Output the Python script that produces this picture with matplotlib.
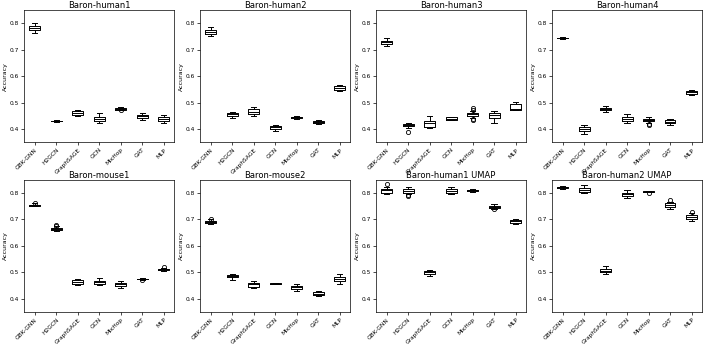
import matplotlib
matplotlib.use("Agg")
import matplotlib.pyplot as plt

methods = ["GBK-GNN", "H2GCN", "GraphSAGE", "GCN", "MixHop", "GAT", "MLP"]
titles = ["Baron-human1", "Baron-human2", "Baron-human3", "Baron-human4",
          "Baron-mouse1", "Baron-mouse2", "Baron-human1 UMAP", "Baron-human2 UMAP"]

# box stats per panel, one value per method
q1 = [
    [0.773, 0.429, 0.455, 0.431, 0.474, 0.443, 0.432],
    [0.760, 0.450, 0.458, 0.401, 0.441, 0.423, 0.549],
    [0.720, 0.411, 0.410, 0.436, 0.449, 0.442, 0.474],
    [0.742, 0.392, 0.471, 0.431, 0.429, 0.422, 0.533],
    [0.751, 0.661, 0.458, 0.457, 0.449, 0.474, 0.509],
    [0.688, 0.482, 0.447, 0.457, 0.438, 0.417, 0.467],
    [0.801, 0.800, 0.496, 0.800, 0.806, 0.743, 0.687],
    [0.818, 0.805, 0.500, 0.789, 0.804, 0.746, 0.701],
]
med = [
    [0.780, 0.431, 0.461, 0.439, 0.477, 0.449, 0.439],
    [0.767, 0.456, 0.466, 0.407, 0.444, 0.427, 0.555],
    [0.727, 0.415, 0.422, 0.440, 0.456, 0.452, 0.477],
    [0.743, 0.400, 0.476, 0.439, 0.434, 0.427, 0.539],
    [0.754, 0.665, 0.464, 0.463, 0.455, 0.476, 0.512],
    [0.691, 0.486, 0.455, 0.458, 0.444, 0.420, 0.476],
    [0.809, 0.806, 0.500, 0.807, 0.809, 0.748, 0.693],
    [0.821, 0.812, 0.506, 0.796, 0.805, 0.754, 0.708],
]
q3 = [
    [0.789, 0.432, 0.467, 0.447, 0.480, 0.455, 0.447],
    [0.774, 0.461, 0.475, 0.412, 0.447, 0.431, 0.562],
    [0.734, 0.420, 0.429, 0.444, 0.461, 0.461, 0.493],
    [0.745, 0.409, 0.480, 0.447, 0.439, 0.433, 0.544],
    [0.756, 0.669, 0.471, 0.469, 0.461, 0.477, 0.514],
    [0.694, 0.491, 0.461, 0.459, 0.449, 0.425, 0.484],
    [0.816, 0.813, 0.505, 0.813, 0.811, 0.751, 0.698],
    [0.823, 0.818, 0.515, 0.801, 0.806, 0.760, 0.716],
]
wlo = [
    [0.763, 0.428, 0.450, 0.422, 0.471, 0.433, 0.425],
    [0.751, 0.443, 0.450, 0.394, 0.438, 0.420, 0.544],
    [0.712, 0.406, 0.403, 0.434, 0.442, 0.425, 0.473],
    [0.741, 0.383, 0.466, 0.422, 0.425, 0.416, 0.528],
    [0.749, 0.657, 0.452, 0.452, 0.443, 0.473, 0.507],
    [0.684, 0.472, 0.441, 0.456, 0.429, 0.413, 0.457],
    [0.796, 0.796, 0.488, 0.795, 0.804, 0.739, 0.682],
    [0.816, 0.798, 0.494, 0.782, 0.802, 0.739, 0.694],
]
whi = [
    [0.801, 0.433, 0.471, 0.459, 0.483, 0.461, 0.454],
    [0.783, 0.466, 0.482, 0.416, 0.449, 0.434, 0.566],
    [0.743, 0.425, 0.449, 0.447, 0.469, 0.468, 0.501],
    [0.746, 0.417, 0.486, 0.458, 0.444, 0.440, 0.549],
    [0.760, 0.674, 0.477, 0.478, 0.467, 0.478, 0.517],
    [0.701, 0.496, 0.469, 0.460, 0.457, 0.429, 0.496],
    [0.823, 0.821, 0.508, 0.821, 0.813, 0.757, 0.702],
    [0.825, 0.828, 0.524, 0.812, 0.807, 0.767, 0.723],
]
fliers = [
    [[], [], [], [], [0.473], [], []],
    [[], [], [], [], [], [], []],
    [[], [0.390], [], [], [0.479, 0.474, 0.437, 0.433], [], []],
    [[], [], [], [], [0.421, 0.416], [], []],
    [[0.762], [0.679, 0.675], [], [], [], [0.470], [0.521]],
    [[0.702], [], [], [], [], [], []],
    [[0.833], [0.793, 0.789], [], [], [], [0.740], []],
    [[], [], [], [], [0.800], [0.772], [0.729]],
]

fig, axes = plt.subplots(2, 4, figsize=(7.08, 3.47), dpi=100)
plt.subplots_adjust(left=0.034, right=0.992, top=0.972, bottom=0.1,
                    wspace=0.17, hspace=0.28)

lw = 0.7
for k, ax in enumerate(axes.flat):
    stats = []
    for i, m in enumerate(methods):
        stats.append(dict(label=m, q1=q1[k][i], med=med[k][i], q3=q3[k][i],
                          whislo=wlo[k][i], whishi=whi[k][i], fliers=fliers[k][i]))
    ax.bxp(stats, widths=0.5,
           boxprops=dict(color="black", linewidth=lw),
           medianprops=dict(color="black", linewidth=lw),
           whiskerprops=dict(color="black", linewidth=lw),
           capprops=dict(color="black", linewidth=lw),
           flierprops=dict(marker="o", markersize=3, markerfacecolor="none",
                           markeredgecolor="black", markeredgewidth=0.6))
    ax.set_ylim(0.35, 0.85)
    ax.set_yticks([0.4, 0.5, 0.6, 0.7, 0.8])
    ax.set_title(titles[k], fontsize=6, pad=1.5)
    ax.set_ylabel("Accuracy", fontsize=4.5, labelpad=1.5)
    ax.set_xticklabels(methods, rotation=45, ha="right", rotation_mode="anchor")
    ax.tick_params(labelsize=4.2, length=2, width=0.5, pad=1.5)
    for s in ax.spines.values():
        s.set_linewidth(0.5)

fig.savefig("out.png", dpi=100)
